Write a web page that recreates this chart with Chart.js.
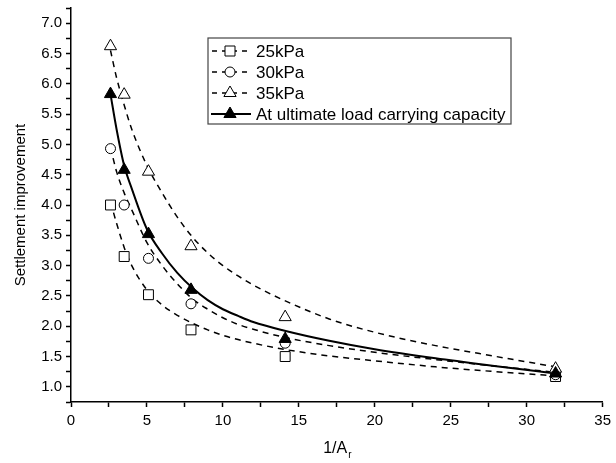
<!DOCTYPE html>
<html lang="en">
<head>
<meta charset="UTF-8">
<title>Settlement improvement</title>
<style>
    body {
        margin: 0;
        background-color: #ffffff;
    }
    #wrap {
        width: 616px;
        height: 463px;
    }
</style>
</head>
<body>
<div id="wrap"><canvas id="chart" width="616" height="463"></canvas></div>
<script src="https://cdn.jsdelivr.net/npm/chart.js"></script>
<script>
// measured points (1/Ar on x)
const ratioX = [2.6, 3.5, 5.1, 7.9, 14.1, 31.9];
const kpa25 = [4.0, 3.15, 2.52, 1.94, 1.5, 1.17];
const kpa30 = [4.93, 4.0, 3.12, 2.37, 1.72, 1.2];
const kpa35 = [6.62, 5.82, 4.55, 3.32, 2.15, 1.3];
const ultimate = [5.83, 4.58, 3.52, 2.6, 1.79, 1.22];

// fitted curves
const fitX = [2.6, 3, 3.5, 4, 5, 6, 7, 8, 9, 10, 11, 12, 14, 17, 20, 24, 28, 31.9];
const fit25 = [4.05, 3.7, 3.3, 3.0, 2.6, 2.35, 2.18, 2.05, 1.94, 1.85, 1.78, 1.72, 1.62, 1.51, 1.43, 1.33, 1.25, 1.18];
const fit30 = [4.95, 4.55, 4.2, 3.92, 3.38, 3.0, 2.7, 2.45, 2.28, 2.14, 2.03, 1.95, 1.82, 1.68, 1.57, 1.45, 1.34, 1.24];
const fit35 = [6.55, 6.1, 5.65, 5.25, 4.65, 4.2, 3.8, 3.47, 3.21, 3.0, 2.83, 2.68, 2.43, 2.12, 1.9, 1.68, 1.5, 1.33];
const fitUlt = [5.83, 5.25, 4.65, 4.27, 3.6, 3.2, 2.88, 2.63, 2.43, 2.28, 2.17, 2.07, 1.93, 1.76, 1.62, 1.47, 1.34, 1.22];

const seriesNames = ['25kPa', '30kPa', '35kPa', 'At ultimate load carrying capacity'];

const FONT = 'Liberation Sans, Arial, sans-serif';

function pts(xs, ys) {
    return xs.map((x, i) => ({ x: x, y: ys[i] }));
}

function markerSet(label, ys, style, fill, radius) {
    return {
        label: label,
        data: pts(ratioX, ys),
        showLine: false,
        pointStyle: style,
        pointRadius: radius,
        pointBorderColor: '#000',
        pointBackgroundColor: fill,
        pointBorderWidth: 1
    };
}

function curveSet(ys, dashed) {
    return {
        label: '',
        data: pts(fitX, ys),
        showLine: true,
        pointRadius: 0,
        borderColor: '#000',
        borderWidth: dashed ? 1.5 : 2,
        borderDash: dashed ? [6, 5] : [],
        cubicInterpolationMode: 'monotone',
        fill: false
    };
}

// draw a marker the same way the points look
function marker(ctx, style, x, y, filled) {
    ctx.save();
    ctx.lineWidth = 1;
    ctx.strokeStyle = '#000';
    ctx.fillStyle = filled ? '#000' : '#fff';
    ctx.setLineDash([]);
    ctx.beginPath();
    if (style === 'rect') {
        ctx.rect(x - 5, y - 5, 10, 10);
    } else if (style === 'circle') {
        ctx.arc(x, y, 5, 0, Math.PI * 2);
    } else {
        ctx.moveTo(x, y - 7);
        ctx.lineTo(x + 6.1, y + 3.5);
        ctx.lineTo(x - 6.1, y + 3.5);
        ctx.closePath();
    }
    ctx.fill();
    ctx.stroke();
    ctx.restore();
}

const legendBox = {
    id: 'legendBox',
    afterDraw(chart) {
        const ctx = chart.ctx;
        const left = 208, top = 38, w = 303, h = 86;
        ctx.save();
        ctx.fillStyle = '#fff';
        ctx.fillRect(left, top, w, h);
        ctx.strokeStyle = '#444';
        ctx.lineWidth = 1.2;
        ctx.strokeRect(left, top, w, h);
        const styles = ['rect', 'circle', 'triangle', 'triangle'];
        ctx.font = '17px ' + FONT;
        ctx.textBaseline = 'middle';
        for (let i = 0; i < seriesNames.length; i++) {
            const y = 51 + i * 21;
            const solid = i === 3;
            ctx.strokeStyle = '#000';
            ctx.lineWidth = solid ? 2 : 1.5;
            ctx.setLineDash(solid ? [] : [5, 5]);
            ctx.beginPath();
            ctx.moveTo(solid ? 211 : 212, y);
            ctx.lineTo(251, y);
            ctx.stroke();
            marker(ctx, styles[i], 230, y, solid);
            ctx.fillStyle = '#000';
            ctx.fillText(seriesNames[i], 256, y + 1);
        }
        ctx.restore();
    }
};

// x title with subscript r
const xTitle = {
    id: 'xTitle',
    afterDraw(chart) {
        const ctx = chart.ctx;
        const cx = (chart.chartArea.left + chart.chartArea.right) / 2;
        ctx.save();
        ctx.fillStyle = '#000';
        ctx.font = '16px ' + FONT;
        ctx.textBaseline = 'alphabetic';
        const main = '1/A';
        const mw = ctx.measureText(main).width;
        ctx.font = '10px ' + FONT;
        const sw = ctx.measureText('r').width;
        const x0 = cx - (mw + sw) / 2;
        ctx.font = '16px ' + FONT;
        ctx.fillText(main, x0, 453);
        ctx.font = '10px ' + FONT;
        ctx.fillText('r', x0 + mw + 1, 458);
        ctx.restore();
    }
};

const ctx = document.getElementById('chart').getContext('2d');
const chart = new Chart(ctx, {
    type: 'scatter',
    data: {
        datasets: [
            markerSet(seriesNames[3], ultimate, 'triangle', '#000', 7),
            markerSet(seriesNames[2], kpa35, 'triangle', '#fff', 7),
            markerSet(seriesNames[1], kpa30, 'circle', '#fff', 5),
            markerSet(seriesNames[0], kpa25, 'rect', '#fff', 7),
            curveSet(fitUlt, false),
            curveSet(fit35, true),
            curveSet(fit30, true),
            curveSet(fit25, true)
        ]
    },
    options: {
        responsive: false,
        animation: false,
        layout: {
            padding: { left: 0, right: 9, top: 5, bottom: 0 }
        },
        plugins: {
            legend: { display: false },
            tooltip: { enabled: false }
        },
        scales: {
            x: {
                type: 'linear',
                min: 0,
                max: 35,
                afterFit: function(scale) { scale.height = 61; },
                border: { color: '#000', width: 1.5 },
                grid: {
                    drawOnChartArea: false,
                    drawTicks: true,
                    tickLength: 5,
                    tickColor: '#000',
                    tickWidth: 1.5
                },
                ticks: {
                    stepSize: 2.5,
                    autoSkip: false,
                    maxRotation: 0,
                    color: '#000',
                    padding: 5,
                    font: { family: FONT, size: 15 },
                    callback: function(v) {
                        return v % 5 === 0 ? String(v) : '';
                    }
                }
            },
            y: {
                type: 'linear',
                min: 0.75,
                max: 7.25,
                afterFit: function(scale) {
                    scale.width = 71;
                    scale.paddingTop = 0;
                    scale.paddingBottom = 0;
                },
                border: { color: '#000', width: 1.5 },
                grid: {
                    drawOnChartArea: false,
                    drawTicks: true,
                    tickLength: 5,
                    tickColor: '#000',
                    tickWidth: 1.5
                },
                title: {
                    display: true,
                    text: 'Settlement improvement',
                    color: '#000',
                    padding: { top: 12, bottom: 0 },
                    font: { family: FONT, size: 15 }
                },
                ticks: {
                    stepSize: 0.25,
                    autoSkip: false,
                    color: '#000',
                    padding: 4,
                    font: { family: FONT, size: 15 },
                    callback: function(v) {
                        const twice = Math.round(v * 4);
                        if (twice % 2 !== 0 || v < 1 || v > 7) return '';
                        return v.toFixed(1);
                    }
                }
            }
        }
    },
    plugins: [legendBox, xTitle]
});
</script>
</body>
</html>
